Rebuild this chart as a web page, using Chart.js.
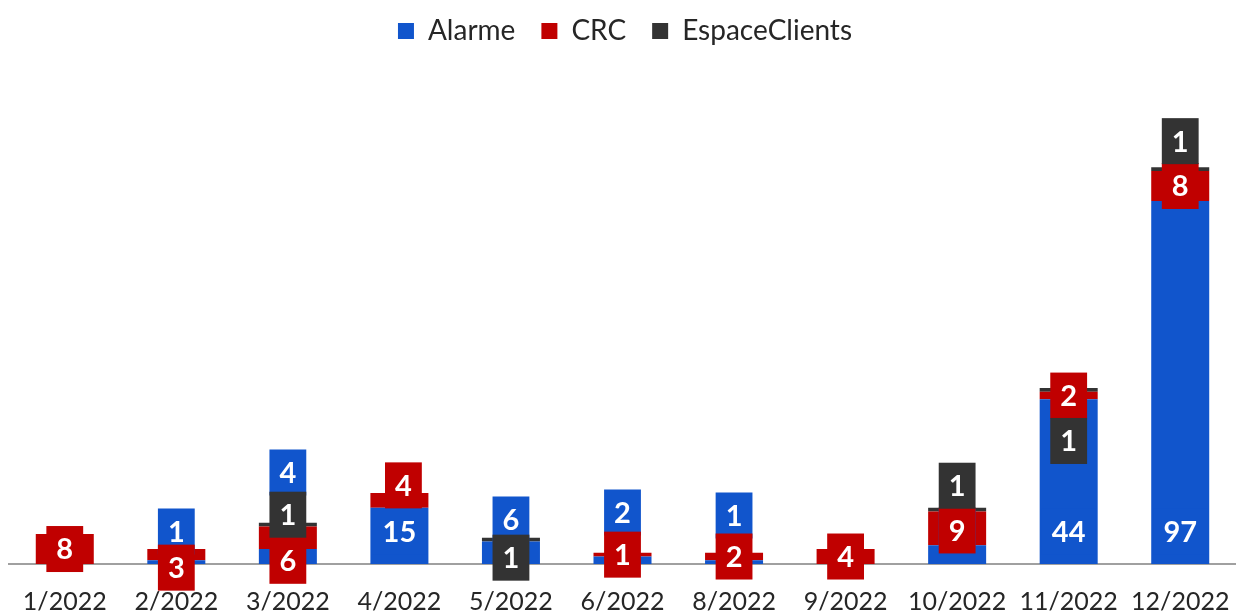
<!DOCTYPE html>
<html>
<head>
<meta charset="utf-8">
<script src="https://cdn.jsdelivr.net/npm/chart.js@4.4.1/dist/chart.umd.min.js"></script>
<style>
  html, body { margin: 0; padding: 0; background: #fff; }
  #wrap { width: 1236px; height: 613px; }
</style>
</head>
<body>
<div id="wrap"><canvas id="chart"></canvas></div>
<script>
// Monthly counts per channel
const months = ['1/2022', '2/2022', '3/2022', '4/2022', '5/2022', '6/2022', '8/2022', '9/2022', '10/2022', '11/2022', '12/2022'];
const alarme = [null, 1, 4, 15, 6, 2, 1, null, 5, 44, 97];
const crc = [8, 3, 6, 4, null, 1, 2, 4, 9, 2, 8];
const espaceClients = [null, null, 1, null, 1, null, null, null, 1, 1, 1];

// Label nudges (px), the way they were dragged around in the original
const alarmeLabelDy = [0, 0, -59, 0, -12, -19, -16, 0, 0, 0, 0];
const crcLabelDy = [0, 13, 23, -15, 0, 0, 0, 0, 2, 0, 0];
const crcLabelDx = [0, 0, 0, 4, 0, 0, 0, 0, 0, 0, 0];
const espLabelDy = [0, 0, -10, 0, 18, 0, 0, 0, -24, 51, -28];

const BLUE = '#1155CC';
const RED = '#C00000';
const DARK = '#333333';
const FONT = 'Lato, "Open Sans", sans-serif';

// Function to draw the boxed value labels on top of the bars
const boxedLabels = {
  id: 'boxedLabels',
  afterDatasetsDraw(chart) {
    const ctx = chart.ctx;
    const zero = chart.scales.y.getPixelForValue(0);
    const shifts = [
      { anchor: 'base', dy: alarmeLabelDy },
      { anchor: 'center', dy: crcLabelDy, dx: crcLabelDx },
      { anchor: 'center', dy: espLabelDy }
    ];
    ctx.save();
    ctx.font = 'bold 29px ' + FONT;
    ctx.textAlign = 'center';
    ctx.textBaseline = 'middle';
    chart.data.datasets.forEach((ds, di) => {
      const meta = chart.getDatasetMeta(di);
      const s = shifts[di];
      meta.data.forEach((bar, i) => {
        const v = ds.data[i];
        if (v == null) return;
        const p = bar.getProps(['x', 'y', 'base'], true);
        let cy = s.anchor === 'base' ? zero - 32.5 : (p.y + p.base) / 2;
        cy += s.dy[i];
        const cx = p.x + (s.dx ? s.dx[i] : 0);
        const text = String(v);
        const w = ctx.measureText(text).width + 20;
        ctx.fillStyle = ds.backgroundColor;
        ctx.fillRect(cx - w / 2, cy - 23, w, 46);
        ctx.fillStyle = '#ffffff';
        ctx.fillText(text, cx, cy + 1);
      });
    });
    ctx.restore();
  }
};

const ctx = document.getElementById('chart').getContext('2d');

new Chart(ctx, {
  type: 'bar',
  data: {
    labels: months,
    datasets: [
      { label: 'Alarme', data: alarme, backgroundColor: BLUE },
      { label: 'CRC', data: crc, backgroundColor: RED },
      { label: 'EspaceClients', data: espaceClients, backgroundColor: DARK }
    ]
  },
  options: {
    responsive: true,
    maintainAspectRatio: false,
    animation: false,
    layout: { padding: { left: 9, right: -5, top: -9, bottom: 0 } },
    datasets: {
      bar: { categoryPercentage: 1, barPercentage: 0.52 }
    },
    scales: {
      x: {
        stacked: true,
        grid: { display: false },
        border: { display: true, color: '#a0a0a0', width: 2 },
        ticks: {
          color: '#262626',
          font: { family: FONT, size: 25 },
          padding: 15,
          maxRotation: 0,
          autoSkip: false
        },
        afterFit(scale) {
          scale.height = 49;
          scale.paddingLeft = 0;
          scale.paddingRight = -5;
        }
      },
      y: {
        stacked: true,
        display: false,
        min: 0,
        max: 136
      }
    },
    plugins: {
      legend: {
        position: 'top',
        labels: {
          color: '#262626',
          font: { family: FONT, size: 28 },
          boxWidth: 16,
          boxHeight: 16,
          padding: 26
        }
      },
      tooltip: { enabled: false }
    }
  },
  plugins: [boxedLabels]
});
</script>
</body>
</html>
